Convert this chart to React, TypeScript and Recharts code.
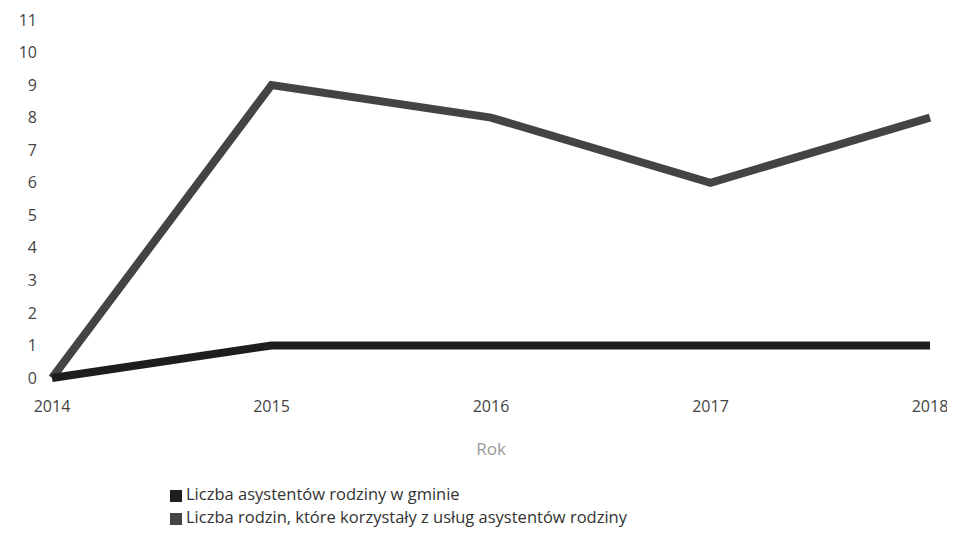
import React from 'react';
import { LineChart, Line, XAxis, YAxis, Legend, Label } from 'recharts';

// lata i wartości
const years = ['2014', '2015', '2016', '2017', '2018'];
const asystenci = [0, 1, 1, 1, 1];
const rodziny = [0, 9, 8, 6, 8];
const yTicks = [0, 1, 2, 3, 4, 5, 6, 7, 8, 9, 10, 11];

const data = years.map((rok, i) => ({
  rok,
  asystenci: asystenci[i],
  rodziny: rodziny[i],
}));

const font = '"Open Sans", "Noto Sans", sans-serif';

export default function App() {
  return (
    <div style={{ fontFamily: font }}>
      <LineChart width={947} height={525} data={data} margin={{ top: 12, right: 25, bottom: 29, left: 4 }}>
        <XAxis
          dataKey="rok"
          axisLine={false}
          tickLine={false}
          tickMargin={17}
          height={80}
          tick={{ fill: '#444', fontSize: 16 }}
        >
          <Label value="Rok" position="insideTop" offset={65} fill="#9a9a9a" fontSize={17} />
        </XAxis>
        <YAxis
          domain={[0, 11]}
          ticks={yTicks}
          interval={0}
          axisLine={false}
          tickLine={false}
          tickMargin={9}
          width={40}
          tick={{ fill: '#444', fontSize: 16 }}
        />
        <Legend
          layout="vertical"
          iconType="square"
          iconSize={12}
          wrapperStyle={{ left: 162, top: 474, width: 700, fontSize: 16.5, lineHeight: '23px' }}
          formatter={(v) => <span style={{ color: '#333' }}>{v}</span>}
        />
        <Line
          type="linear"
          dataKey="rodziny"
          name="Liczba rodzin, które korzystały z usług asystentów rodziny"
          stroke="#444444"
          strokeWidth={8}
          dot={false}
          isAnimationActive={false}
          legendType="square"
        />
        <Line
          type="linear"
          dataKey="asystenci"
          name="Liczba asystentów rodziny w gminie"
          stroke="#1e1e1e"
          strokeWidth={8}
          dot={false}
          isAnimationActive={false}
        />
      </LineChart>
    </div>
  );
}
